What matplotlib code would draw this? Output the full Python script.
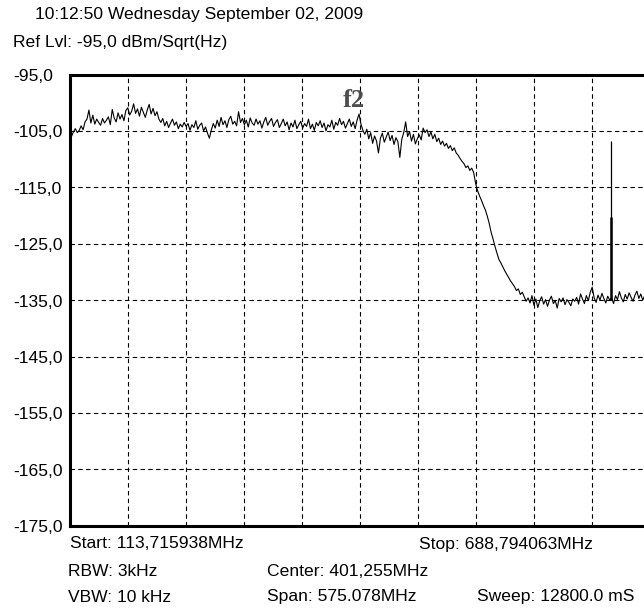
import matplotlib
matplotlib.use("Agg")
import matplotlib.pyplot as plt
import matplotlib.transforms as mtransforms
import numpy as np

# analyzer settings (MHz / dB)
f_start = 113.715938
f_stop = 688.794063
ref_lvl = -95.0
bottom_lvl = -175.0

# trace, evenly spaced over the span
trace_db = [
    -108.4, -106.0, -105.2, -104.6, -105.3, -104.9, -104.1, -104.8, -103.4, -102.9,
    -101.3, -103.6, -102.2, -103.8, -102.9, -103.5, -104.0, -102.8, -103.6, -103.1,
    -102.5, -103.9, -101.2, -102.7, -103.4, -101.8, -102.9, -102.1, -103.2, -101.4,
    -100.9, -102.2, -101.5, -100.2, -101.9, -101.1, -102.4, -100.8, -101.7, -102.6,
    -101.3, -100.3, -102.0, -101.0, -102.3, -101.6, -102.9, -103.5, -102.8, -104.1,
    -103.3, -104.4, -103.6, -102.9, -104.0, -103.4, -104.6, -103.8, -104.3, -103.5,
    -104.2, -103.7, -104.9, -103.9, -104.4, -103.2, -104.7, -104.0, -103.6, -105.0,
    -104.3, -105.4, -106.3, -104.8, -103.7, -104.5, -103.1, -104.2, -102.6, -103.9,
    -103.2, -104.4, -103.0, -102.4, -103.8, -103.3, -104.1, -101.6, -103.5, -102.8,
    -103.9, -103.1, -104.3, -102.7, -103.6, -104.0, -102.9, -103.8, -103.2, -104.5,
    -103.4, -102.6, -104.0, -103.3, -102.8, -104.2, -103.5, -103.0, -104.4, -103.7,
    -102.9, -104.1, -103.4, -104.8, -103.6, -104.3, -103.1, -104.6, -103.9, -103.3,
    -104.5, -103.7, -104.2, -102.9, -104.6, -103.8, -104.9, -103.5, -104.1, -103.2,
    -104.4, -103.6, -105.0, -103.9, -104.3, -103.1, -104.7, -103.5, -104.0, -102.8,
    -103.9, -103.3, -104.5, -103.7, -102.9, -104.2, -103.4, -104.6, -103.1, -102.0,
    -103.8, -104.9, -105.6, -104.7, -106.4, -105.3, -107.2, -105.9, -106.8, -108.9,
    -106.3, -105.4, -107.0, -106.1, -105.2, -106.7, -105.8, -107.4, -106.2, -106.9,
    -109.7, -106.5, -105.3, -103.4, -106.0, -105.1, -106.8, -105.6, -107.3, -106.4,
    -105.7, -106.6, -104.5, -105.3, -104.8, -106.0, -105.2, -106.4, -105.6, -106.9,
    -106.3, -107.4, -106.8, -107.7, -107.2, -108.1, -107.6, -108.5, -108.0, -108.9,
    -109.3, -109.9, -110.4, -110.8, -111.5, -111.2, -112.0, -111.6, -112.4, -114.3,
    -115.6, -116.5, -117.3, -118.2, -119.0, -120.1, -121.4, -123.0, -124.2, -125.5,
    -126.7, -127.8, -128.4, -129.1, -129.8, -130.4, -131.0, -131.6, -132.1, -132.6,
    -133.3, -133.0, -134.0, -133.6, -134.4, -135.2, -134.6, -135.5, -134.2, -135.9,
    -134.8, -136.3, -135.1, -134.4, -135.7, -134.9, -136.1, -135.0, -134.3, -135.6,
    -135.1, -136.4, -134.7, -135.3, -134.6, -135.8, -134.9, -135.4, -136.0, -134.8,
    -135.2, -134.5, -135.7, -133.9, -134.8, -135.6, -134.2, -135.1, -133.6, -132.7,
    -134.6, -135.4, -134.1, -135.0, -133.8, -134.7, -135.5, -134.3, -135.0, -134.6,
    -135.6, -134.2, -134.9, -133.5, -134.6, -135.3, -134.0, -134.8, -133.7, -134.5,
    -135.2, -134.1, -133.4, -134.7, -133.9, -135.0, -134.2, -134.8, -133.6, -134.5,
]

# narrow carrier near the right edge
spike_freq = 650.1
spike_top = -106.7
spike_mid = -120.2
spike_base = -135.0

ylabels = ["-95,0", "-105,0", "-115,0", "-125,0", "-135,0",
           "-145,0", "-155,0", "-165,0", "-175,0"]
ylevels = [-95, -105, -115, -125, -135, -145, -155, -165, -175]

header = ["10:12:50 Wednesday September 02, 2009",
          "Ref Lvl: -95,0 dBm/Sqrt(Hz)"]
footer = [("Start: 113,715938MHz", 70.5, 544),
          ("Stop: 688,794063MHz", 419, 544),
          ("RBW: 3kHz", 67.5, 571),
          ("Center: 401,255MHz", 267, 571),
          ("VBW: 10 kHz", 67.5, 597),
          ("Span: 575.078MHz", 267, 597),
          ("Sweep: 12800.0 mS", 477, 597)]

W, H = 644, 609
plt.rcParams['font.family'] = ['Liberation Sans', 'DejaVu Sans']
fs = 12.6

fig = plt.figure(figsize=(W / 100, H / 100), dpi=100)
fig.patch.set_facecolor('white')

# axes box in pixels: left 69.5, top 74.5, bottom 525.8, 10 divisions of 58.1 px
ax = fig.add_axes([69.5 / W, (H - 525.8) / H, 581 / W, (525.8 - 74.5) / H])

freqs = np.linspace(f_start, f_stop, len(trace_db))
ax.plot(freqs, trace_db, color='black', lw=0.8)
ax.vlines(spike_freq, spike_base, spike_top, color='black', lw=0.9)
ax.vlines(spike_freq, spike_base, spike_mid, color='black', lw=1.8)

ax.set_xlim(f_start, f_stop)
ax.set_ylim(bottom_lvl, ref_lvl)

div = (f_stop - f_start) / 10
ax.set_xticks([f_start + k * div for k in range(1, 10)])
ax.set_yticks(ylevels[1:-1])
ax.tick_params(length=0, labelbottom=False, labelleft=False)
ax.grid(True, color='black', lw=0.8, linestyle=(0, (4, 3)))

for side in ['left', 'top', 'bottom']:
    ax.spines[side].set_linewidth(2.2)
ax.spines['right'].set_visible(False)

# marker label
ax.text(f_start + (354 - 69.5) / 58.1 * div, ref_lvl - (107 - 74.5) / 56.41 * 10,
        "f2", family='Liberation Serif', fontweight='bold', fontsize=19,
        color='#4d4d4d', ha='center', va='baseline')

# level labels on the left
trans = mtransforms.blended_transform_factory(fig.transFigure, ax.transData)
trans = mtransforms.offset_copy(trans, fig=fig, x=0, y=-2, units='dots')
for lab, lev in zip(ylabels, ylevels):
    ax.text(13 / W, lev, lab, transform=trans, fontsize=fs,
            ha='left', va='center', clip_on=False)

fig.text(35 / W, 1 - 15 / H, header[0], fontsize=fs, ha='left', va='center')
fig.text(13 / W, 1 - 42 / H, header[1], fontsize=fs, ha='left', va='center')
for txt, x, y in footer:
    fig.text(x / W, 1 - y / H, txt, fontsize=fs, ha='left', va='center')

fig.savefig('out.png', dpi=100)
